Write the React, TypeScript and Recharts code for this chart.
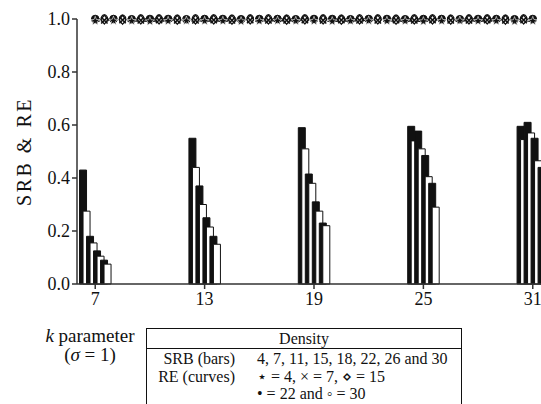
import React from 'react';
import { ComposedChart, Bar, Line, XAxis, YAxis } from 'recharts';

// k values where the SRB bars sit
const kValues = [7, 13, 19, 25, 31];

// SRB per density (bars), one value per k
const srbDensity4 = [0.43, 0.55, 0.59, 0.595, 0.595];
const srbDensity7 = [0.275, 0.44, 0.51, 0.54, 0.545];
const srbDensity11 = [0.18, 0.37, 0.415, 0.577, 0.61];
const srbDensity15 = [0.155, 0.3, 0.38, 0.51, 0.57];
const srbDensity18 = [0.125, 0.25, 0.31, 0.485, 0.55];
const srbDensity22 = [0.105, 0.215, 0.275, 0.405, 0.465];
const srbDensity26 = [0.09, 0.18, 0.23, 0.38, 0.44];
const srbDensity30 = [0.075, 0.15, 0.22, 0.29, 0.35];

// RE curves: densities 4 and 22 sampled at whole k, 7 / 15 / 30 at half steps
const reKWhole = [7, 8, 9, 10, 11, 12, 13, 14, 15, 16, 17, 18, 19, 20, 21, 22, 23, 24, 25, 26, 27, 28, 29, 30, 31];
const reKHalf = [7.5, 8.5, 9.5, 10.5, 11.5, 12.5, 13.5, 14.5, 15.5, 16.5, 17.5, 18.5, 19.5, 20.5, 21.5, 22.5, 23.5, 24.5, 25.5, 26.5, 27.5, 28.5, 29.5, 30.5];
const reDensity4 = [0.992, 0.993, 0.992, 0.991, 0.992, 0.993, 0.992, 0.992, 0.991, 0.992, 0.993, 0.992, 0.992, 0.991, 0.992, 0.993, 0.992, 0.992, 0.991, 0.992, 0.993, 0.992, 0.992, 0.991, 0.992];
const reDensity22 = [1.0, 1.0, 0.999, 1.0, 1.0, 0.999, 1.0, 1.0, 0.999, 1.0, 1.0, 0.999, 1.0, 1.0, 0.999, 1.0, 1.0, 0.999, 1.0, 1.0, 0.999, 1.0, 1.0, 0.999, 1.0];
const reDensity7 = [0.995, 0.996, 0.995, 0.996, 0.995, 0.995, 0.996, 0.995, 0.996, 0.995, 0.995, 0.996, 0.995, 0.996, 0.995, 0.995, 0.996, 0.995, 0.996, 0.995, 0.995, 0.996, 0.995, 0.996];
const reDensity15 = [0.998, 0.997, 0.998, 0.998, 0.997, 0.998, 0.998, 0.997, 0.998, 0.998, 0.997, 0.998, 0.998, 0.997, 0.998, 0.998, 0.997, 0.998, 0.998, 0.997, 0.998, 0.998, 0.997, 0.998];
const reDensity30 = [1.0, 0.999, 1.0, 1.0, 0.999, 1.0, 1.0, 0.999, 1.0, 1.0, 0.999, 1.0, 1.0, 0.999, 1.0, 1.0, 0.999, 1.0, 1.0, 0.999, 1.0, 1.0, 0.999, 1.0];

const yTicks = [0, 0.2, 0.4, 0.6, 0.8, 1.0];

const barData = kValues.map((k, i) => ({
  k,
  d4: srbDensity4[i],
  d7: srbDensity7[i],
  d11: srbDensity11[i],
  d15: srbDensity15[i],
  d18: srbDensity18[i],
  d22: srbDensity22[i],
  d26: srbDensity26[i],
  d30: srbDensity30[i],
}));

const reWholeData = reKWhole.map((k, i) => ({ k, r4: reDensity4[i], r22: reDensity22[i] }));
const reHalfData = reKHalf.map((k, i) => ({ k, r7: reDensity7[i], r15: reDensity15[i], r30: reDensity30[i] }));

const INK = '#111';
const FONT = '"Liberation Serif", "DejaVu Serif", "Times New Roman", Times, "Noto Serif", serif';

const starDot = (props: any) => {
  const { cx, cy, index } = props;
  if (cx == null || cy == null) return <g key={index} />;
  const pts: string[] = [];
  for (let i = 0; i < 10; i++) {
    const r = i % 2 === 0 ? 4.8 : 2;
    const a = -Math.PI / 2 + (i * Math.PI) / 5;
    pts.push(`${cx + r * Math.cos(a)},${cy + r * Math.sin(a)}`);
  }
  return <polygon key={index} points={pts.join(' ')} fill={INK} stroke="#fff" strokeWidth={0.6} />;
};

const crossDot = (props: any) => {
  const { cx, cy, index } = props;
  if (cx == null || cy == null) return <g key={index} />;
  const s = 3.2;
  return (
    <path key={index} d={`M${cx - s},${cy - s}L${cx + s},${cy + s}M${cx - s},${cy + s}L${cx + s},${cy - s}`} stroke={INK} strokeWidth={1.5} />
  );
};

const diamondDot = (props: any) => {
  const { cx, cy, index } = props;
  if (cx == null || cy == null) return <g key={index} />;
  const s = 4.5;
  return (
    <path key={index} d={`M${cx},${cy - s}L${cx + s * 0.75},${cy}L${cx},${cy + s}L${cx - s * 0.75},${cy}Z`} fill="#fff" stroke={INK} strokeWidth={1.2} />
  );
};

const filledDot = (props: any) => {
  const { cx, cy, index } = props;
  if (cx == null || cy == null) return <g key={index} />;
  return <circle key={index} cx={cx} cy={cy} r={3.8} fill={INK} stroke={INK} />;
};

const openDot = (props: any) => {
  const { cx, cy, index } = props;
  if (cx == null || cy == null) return <g key={index} />;
  return <ellipse key={index} cx={cx} cy={cy} rx={3.2} ry={4.2} fill="#fff" stroke={INK} strokeWidth={1.2} />;
};

const yLabel = (props: any) => {
  const { viewBox } = props;
  const x = viewBox.x + 24;
  const y = viewBox.y + viewBox.height / 2;
  return (
    <text x={x} y={y} transform={`rotate(-90, ${x}, ${y})`} textAnchor="middle" dominantBaseline="central" fontFamily={FONT} fontSize={20} fill={INK} letterSpacing={2.5}>
      SRB &amp; RE
    </text>
  );
};

const barKeys = ['d4', 'd7', 'd11', 'd15', 'd18', 'd22', 'd26', 'd30'];

const cellText: React.CSSProperties = { position: 'absolute', whiteSpace: 'nowrap', fontSize: 16, lineHeight: '18px' };

export default function App() {
  return (
    <div style={{ position: 'fixed', left: 0, top: 0, width: 541, height: 404, overflow: 'hidden', background: '#fff', fontFamily: FONT, color: INK }}>
      <ComposedChart width={600} height={320} data={barData} margin={{ top: 19, right: 49, left: 0, bottom: 0 }} barGap={-3.5}>
        <XAxis
          dataKey="k"
          type="number"
          domain={[6, 32]}
          ticks={kValues}
          allowDataOverflow
          height={36}
          stroke="#333"
          strokeWidth={1.5}
          tickSize={5}
          tickMargin={3}
          tick={{ fontFamily: FONT, fontSize: 18, fill: INK }}
        />
        <XAxis xAxisId="re" dataKey="k" type="number" domain={[6, 32]} allowDataOverflow hide height={0} />
        <YAxis
          type="number"
          domain={[0, 1]}
          ticks={yTicks}
          tickFormatter={(v: number) => v.toFixed(1)}
          width={77}
          stroke="#333"
          strokeWidth={1.5}
          tickSize={5}
          tickMargin={2}
          tick={{ fontFamily: FONT, fontSize: 18, fill: INK }}
          label={{ content: yLabel }}
        />
        {barKeys.map((key, i) => (
          <Bar
            key={key}
            dataKey={key}
            barSize={7}
            fill={i % 2 === 0 ? INK : '#fff'}
            stroke={INK}
            strokeWidth={1}
            isAnimationActive={false}
          />
        ))}
        <Line xAxisId="re" data={reHalfData} dataKey="r30" type="linear" stroke={INK} strokeWidth={1.1} strokeDasharray="5 3" dot={openDot} isAnimationActive={false} />
        <Line xAxisId="re" data={reHalfData} dataKey="r15" type="linear" stroke={INK} strokeWidth={1.1} strokeDasharray="5 3" dot={diamondDot} isAnimationActive={false} />
        <Line xAxisId="re" data={reHalfData} dataKey="r7" type="linear" stroke={INK} strokeWidth={1.1} strokeDasharray="5 3" dot={crossDot} isAnimationActive={false} />
        <Line xAxisId="re" data={reWholeData} dataKey="r22" type="linear" stroke={INK} strokeWidth={1.1} strokeDasharray="5 3" dot={filledDot} isAnimationActive={false} />
        <Line xAxisId="re" data={reWholeData} dataKey="r4" type="linear" stroke={INK} strokeWidth={1.1} strokeDasharray="5 3" dot={starDot} isAnimationActive={false} />
      </ComposedChart>

      {/* caption block under the axis */}
      <div style={{ position: 'absolute', left: 40, top: 326, width: 100, textAlign: 'center', fontSize: 19, lineHeight: '19px' }}>
        <div><i>k</i> parameter</div>
        <div>(<i>σ</i> = 1)</div>
      </div>
      <div style={{ position: 'absolute', left: 146, top: 328, width: 314, height: 100, border: `1.5px solid ${INK}` }}>
        <div style={{ height: 19, borderBottom: `1.5px solid ${INK}`, textAlign: 'center', fontSize: 16, lineHeight: '20px' }}>Density</div>
        <div style={{ ...cellText, right: 226, top: 21 }}>SRB (bars)</div>
        <div style={{ ...cellText, left: 110, top: 21 }}>4, 7, 11, 15, 18, 22, 26 and 30</div>
        <div style={{ ...cellText, right: 226, top: 39 }}>RE (curves)</div>
        <div style={{ ...cellText, left: 110, top: 39 }}>⋆ = 4, × = 7, ⋄ = 15</div>
        <div style={{ ...cellText, left: 110, top: 56 }}>• = 22 and ◦ = 30</div>
      </div>
    </div>
  );
}
